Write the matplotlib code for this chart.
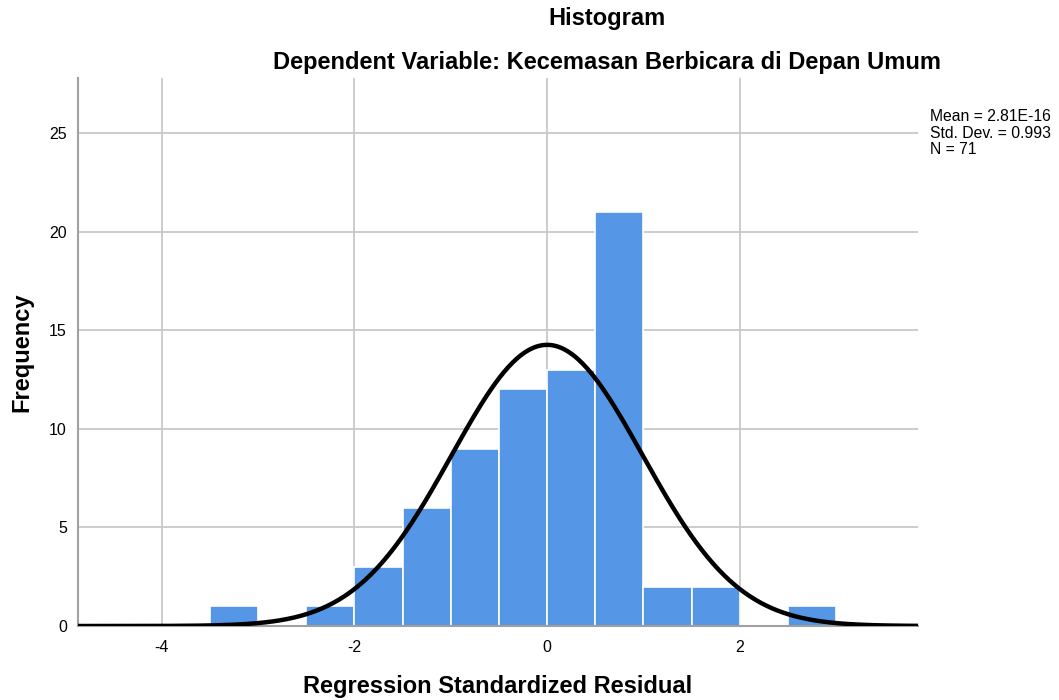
import numpy as np
import matplotlib
matplotlib.use("Agg")
import matplotlib.pyplot as plt

plt.rcParams['font.family'] = ['Liberation Sans', 'DejaVu Sans']
plt.rcParams['axes.unicode_minus'] = False

bin_edges = [-3.5, -3.0, -2.5, -2.0, -1.5, -1.0, -0.5, 0.0, 0.5, 1.0, 1.5, 2.0, 2.5, 3.0]
counts = [1, 0, 1, 3, 6, 9, 12, 13, 21, 2, 2, 0, 1]
mean_val = 2.81e-16
std_val = 0.993
n_val = 71
x_ticks = [-4, -2, 0, 2]
y_ticks = [0, 5, 10, 15, 20, 25]

fig = plt.figure(figsize=(10.59, 7.0), dpi=100)
ax = fig.add_axes([78/1059, 1-626/700, (918-78)/1059, (626-78)/700])

ax.set_xlim(-4.87, 3.85)
ax.set_ylim(0, 27.8)
ax.set_xticks(x_ticks)
ax.set_yticks(y_ticks)
ax.grid(True, color='#c8c8c8', linewidth=1.3)
ax.set_axisbelow(True)

lefts = np.array(bin_edges[:-1])
widths = np.diff(bin_edges)
ax.bar(lefts, counts, width=widths, align='edge', color='#5596E6',
       edgecolor='white', linewidth=1.2, zorder=2)

xs = np.linspace(-4.87, 3.85, 600)
bw = 0.5
pdf = n_val * bw / (std_val * np.sqrt(2*np.pi)) * np.exp(-0.5*((xs-mean_val)/std_val)**2)
ax.plot(xs, pdf, color='black', linewidth=3.2, zorder=3, solid_capstyle='butt')

for s in ['top', 'right']:
    ax.spines[s].set_visible(False)
ax.spines['left'].set_color('#a0a0a0')
ax.spines['left'].set_linewidth(1.5)
ax.spines['bottom'].set_color('#a0a0a0')
ax.spines['bottom'].set_linewidth(1.5)
ax.tick_params(length=0, labelsize=11.5, pad=8)
ax.tick_params(axis='x', pad=10)

fig.text(498/1059, 1-687/700, 'Regression Standardized Residual', ha='center', va='center',
         fontsize=17, fontweight='bold')
fig.text(22/1059, 1-352/700, 'Frequency', ha='center', va='center', rotation=90,
         fontsize=17, fontweight='bold')

fig.text(607/1059, 1-19/700, 'Histogram', ha='center', va='center', fontsize=17, fontweight='bold')
fig.text(607/1059, 1-62/700, 'Dependent Variable: Kecemasan Berbicara di Depan Umum',
         ha='center', va='center', fontsize=17, fontweight='bold')

fig.text(930/1059, 1-133/700, 'Mean = 2.81E-16\nStd. Dev. = 0.993\nN = 71',
         ha='left', va='center', fontsize=11.3, linespacing=1.1)

fig.savefig('out.png', dpi=100)
